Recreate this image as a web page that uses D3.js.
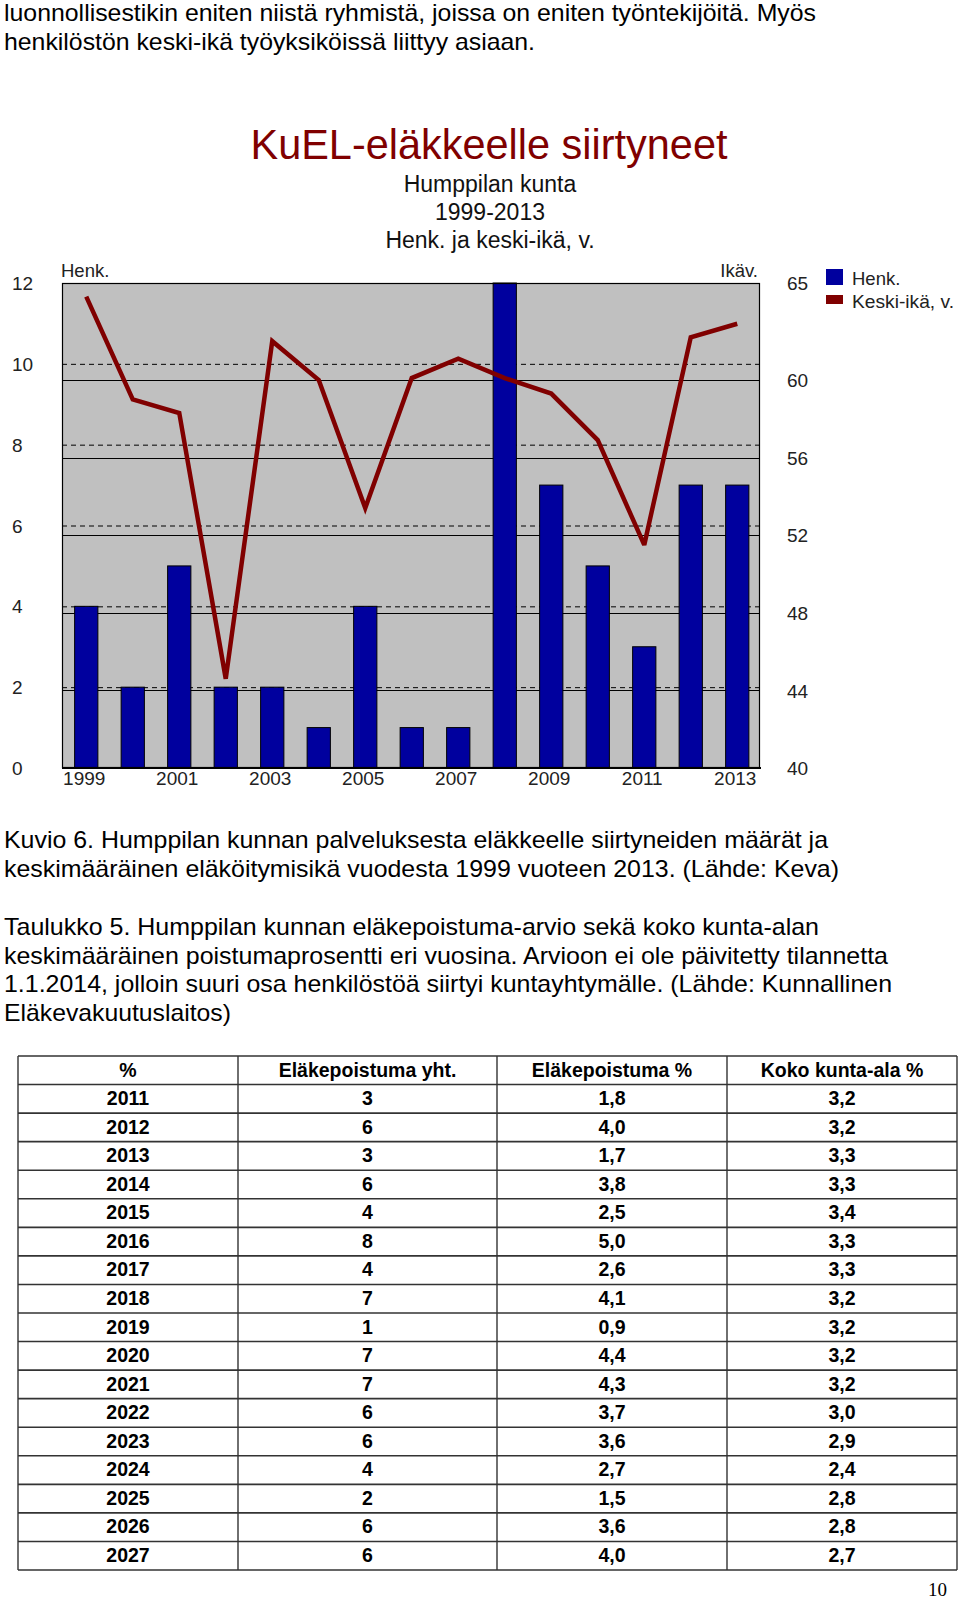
<!DOCTYPE html>
<html><head><meta charset="utf-8">
<script src="https://cdn.jsdelivr.net/npm/d3@7"></script>
<style>html,body{margin:0;padding:0;background:#fff;} svg{display:block;}</style>
</head><body>
<svg id="page" width="960" height="1599"></svg>
<script>
// ---------- DATA ----------
const years = ["1999","2000","2001","2002","2003","2004","2005","2006","2007","2008","2009","2010","2011","2012","2013"];
const henk = [4, 2, 5, 2, 2, 1, 4, 1, 1, 12, 7, 5, 3, 7, 7];
const keskiIka = [64.3, 59.0, 58.3, 44.6, 62.0, 60.0, 53.4, 60.1, 61.1, 60.1, 59.3, 56.9, 51.5, 62.2, 62.9];
const leftTicks = [0, 2, 4, 6, 8, 10, 12];
const rightTicks = [40, 44, 48, 52, 56, 60, 65];
const leftGrid = [2, 4, 6, 8, 10];
const rightGrid = [44, 48, 52, 56, 60];
const xTickYears = ["1999","2001","2003","2005","2007","2009","2011","2013"];
const seriesNames = ["Henk.", "Keski-ikä, v."];

const chartTitle = "KuEL-eläkkeelle siirtyneet";
const chartSubtitles = ["Humppilan kunta", "1999-2013", "Henk. ja keski-ikä, v."];

const introLines = [
  "luonnollisestikin eniten niistä ryhmistä, joissa on eniten työntekijöitä. Myös",
  "henkilöstön keski-ikä työyksiköissä liittyy asiaan."
];
const figureCaption = [
  "Kuvio 6. Humppilan kunnan palveluksesta eläkkeelle siirtyneiden määrät ja",
  "keskimääräinen eläköitymisikä vuodesta 1999 vuoteen 2013. (Lähde: Keva)"
];
const tableCaption = [
  "Taulukko 5. Humppilan kunnan eläkepoistuma-arvio sekä koko kunta-alan",
  "keskimääräinen poistumaprosentti eri vuosina. Arvioon ei ole päivitetty tilannetta",
  "1.1.2014, jolloin suuri osa henkilöstöä siirtyi kuntayhtymälle. (Lähde: Kunnallinen",
  "Eläkevakuutuslaitos)"
];

const tableHeader = ["%", "Eläkepoistuma yht.", "Eläkepoistuma %", "Koko kunta-ala %"];
const tableYears = [2011,2012,2013,2014,2015,2016,2017,2018,2019,2020,2021,2022,2023,2024,2025,2026,2027];
const poistumaYht = [3,6,3,6,4,8,4,7,1,7,7,6,6,4,2,6,6];
const poistumaPct = [1.8,4.0,1.7,3.8,2.5,5.0,2.6,4.1,0.9,4.4,4.3,3.7,3.6,2.7,1.5,3.6,4.0];
const kuntaAlaPct = [3.2,3.2,3.3,3.3,3.4,3.3,3.3,3.2,3.2,3.2,3.2,3.0,2.9,2.4,2.8,2.8,2.7];
const pageNumber = "10";

// ---------- DRAW ----------
const svg = d3.select("#page");
const SANS = "'Liberation Sans', Arial, sans-serif";

function textLine(g, str, x, y, size, width, opts = {}) {
  const t = g.append("text").attr("x", x).attr("y", y)
    .attr("font-family", opts.family || SANS).attr("font-size", size)
    .attr("fill", opts.fill || "#000")
    .attr("font-weight", opts.weight || "normal")
    .attr("text-anchor", opts.anchor || "start")
    .text(str);
  if (width) t.attr("textLength", width).attr("lengthAdjust", "spacingAndGlyphs");
  return t;
}

// Body text
const intro = svg.append("g");
const introEnds = [816, 535];
introLines.forEach((s, i) => textLine(intro, s, 4, 21 + i * 28.5, 24, introEnds[i] - 4));

const cap1 = svg.append("g");
const cap1Ends = [828, 839];
figureCaption.forEach((s, i) => textLine(cap1, s, 4, 848 + i * 28.5, 24, cap1Ends[i] - 4));

const cap2 = svg.append("g");
const cap2Ends = [819, 888, 892, 231];
tableCaption.forEach((s, i) => textLine(cap2, s, 4, 935 + i * 28.5, 24, cap2Ends[i] - 4));

// Chart
const P = {left: 62, right: 760, top: 283, bottom: 768};
const x = d3.scaleBand().domain(years).range([P.left + 1, P.right + 0.5]).paddingInner(0.5).paddingOuter(0.25);
const yL = d3.scaleLinear().domain([0, 12]).range([P.bottom, P.top]);
const yR = d3.scaleLinear().domain([40, 65]).range([P.bottom, P.top]);

const chart = svg.append("g");
textLine(chart, chartTitle, 489, 159, 42, 477, {anchor: "middle", fill: "#800000"});
chartSubtitles.forEach((s, i) => textLine(chart, s, 490, 192 + i * 28, 23, null, {anchor: "middle", fill: "#111"}));

chart.append("rect").attr("x", P.left).attr("y", P.top)
  .attr("width", P.right - P.left).attr("height", P.bottom - P.top)
  .attr("fill", "#c0c0c0");

// gridlines: dashed for left axis, solid for right axis
chart.append("g").selectAll("line").data(leftGrid).join("line")
  .attr("x1", P.left).attr("x2", P.right)
  .attr("y1", d => yL(d) + 0.5).attr("y2", d => yL(d) + 0.5)
  .attr("stroke", "#000").attr("stroke-width", 1).attr("stroke-dasharray", "5,4");
chart.append("g").selectAll("line").data(rightGrid).join("line")
  .attr("x1", P.left).attr("x2", P.right)
  .attr("y1", d => Math.round(yR(d)) + 0.5).attr("y2", d => Math.round(yR(d)) + 0.5)
  .attr("stroke", "#000").attr("stroke-width", 1.2);

// bars
chart.append("g").selectAll("rect").data(years).join("rect")
  .attr("x", d => x(d)).attr("width", x.bandwidth())
  .attr("y", (d, i) => yL(henk[i])).attr("height", (d, i) => yL(0) - yL(henk[i]))
  .attr("fill", "#00009e").attr("stroke", "#000").attr("stroke-width", 1);

// plot frame
chart.append("rect").attr("x", P.left + 0.5).attr("y", P.top + 0.5)
  .attr("width", P.right - P.left - 1).attr("height", P.bottom - P.top - 1)
  .attr("fill", "none").attr("stroke", "#000").attr("stroke-width", 1.2);
chart.append("line").attr("x1", P.left).attr("x2", P.right + 1)
  .attr("y1", P.bottom).attr("y2", P.bottom).attr("stroke", "#000").attr("stroke-width", 2);

// line series
const line = d3.line().x((d, i) => x(years[i]) + x.bandwidth() / 2).y(d => yR(d));
chart.append("path").datum(keskiIka).attr("d", line)
  .attr("fill", "none").attr("stroke", "#800000").attr("stroke-width", 4.5)
  .attr("stroke-linejoin", "miter").attr("stroke-miterlimit", 3);

// axes
const axL = chart.append("g").attr("transform", "translate(12,0)")
  .call(d3.axisLeft(yL).tickValues(leftTicks).tickSize(0).tickPadding(0));
axL.select(".domain").remove();
axL.selectAll("text").attr("text-anchor", "start").attr("x", 0).attr("dy", "0.35em")
  .attr("font-family", SANS).attr("font-size", 19).attr("fill", "#222");

const axR = chart.append("g").attr("transform", "translate(787,0)")
  .call(d3.axisRight(yR).tickValues(rightTicks).tickSize(0).tickPadding(0));
axR.select(".domain").remove();
axR.selectAll("text").attr("x", 0).attr("dy", "0.35em")
  .attr("font-family", SANS).attr("font-size", 19).attr("fill", "#222");

const axB = chart.append("g").attr("transform", `translate(-2,${P.bottom})`)
  .call(d3.axisBottom(x).tickValues(xTickYears).tickSize(0).tickPadding(4));
axB.select(".domain").remove();
axB.selectAll("text").attr("dy", "0.71em")
  .attr("font-family", SANS).attr("font-size", 19).attr("fill", "#222");

textLine(chart, "Henk.", 61, 277, 18.5, null, {fill: "#222"});
textLine(chart, "Ikäv.", 758, 277, 18.5, null, {anchor: "end", fill: "#222"});

// legend
const leg = chart.append("g");
leg.append("rect").attr("x", 826).attr("y", 269).attr("width", 17).attr("height", 16).attr("fill", "#00009e");
leg.append("rect").attr("x", 826).attr("y", 295).attr("width", 17).attr("height", 9).attr("fill", "#800000");
textLine(leg, seriesNames[0], 852, 285, 18.5, null, {fill: "#222"});
textLine(leg, seriesNames[1], 852, 308, 18.5, 102, {fill: "#222"});

// ---------- TABLE ----------
const fmt = v => d3.format(".1f")(v).replace(".", ",");
const rows = tableYears.map((yv, i) => [String(yv), String(poistumaYht[i]), fmt(poistumaPct[i]), fmt(kuntaAlaPct[i])]);
const allRows = [tableHeader].concat(rows);
const colEdges = [18, 238, 497, 727, 957];
const rowY = d3.scaleBand().domain(d3.range(allRows.length)).range([1056, 1570]);
const tbl = svg.append("g");
tbl.append("g").selectAll("line").data(d3.range(allRows.length + 1)).join("line")
  .attr("x1", colEdges[0]).attr("x2", colEdges[4])
  .attr("y1", d => d < allRows.length ? rowY(d) : 1570).attr("y2", d => d < allRows.length ? rowY(d) : 1570)
  .attr("stroke", "#333").attr("stroke-width", 1.6);
tbl.append("g").selectAll("line").data(colEdges).join("line")
  .attr("x1", d => d).attr("x2", d => d).attr("y1", 1056).attr("y2", 1570)
  .attr("stroke", "#333").attr("stroke-width", 1.4);
allRows.forEach((r, ri) => {
  r.forEach((cell, ci) => {
    textLine(tbl, cell, (colEdges[ci] + colEdges[ci + 1]) / 2, rowY(ri) + 20.5, 19.5, null,
      {anchor: "middle", weight: "bold"});
  });
});

textLine(svg, pageNumber, 947, 1596, 19, null, {anchor: "end", family: "'Liberation Serif', 'Times New Roman', serif"});
</script>
</body></html>
